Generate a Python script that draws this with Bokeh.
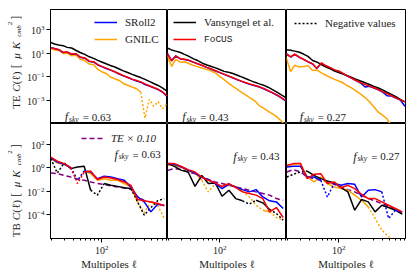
from math import pi
from bokeh.plotting import figure
from bokeh.layouts import column, row
from bokeh.models import Range1d, FixedTicker, Legend, LegendItem, Label
from bokeh.embed import file_html
from bokeh.resources import INLINE

SERIF = "Liberation Serif"
MONO = "Liberation Mono"
TXT = "#222222"

C_SROLL = "#0000ff"
C_GNILC = "#ffa500"
C_VANS = "#000000"
C_FOCUS = "#ff0000"
C_TE = "#800080"

# ---------------- data ----------------
ell_te = [19, 22, 25, 29, 33, 38, 44, 50, 58, 67, 77, 88, 100, 115, 132, 152, 175,
          200, 230, 265, 305, 350, 400, 460, 530, 610, 700, 810]
ell_tb = [19.5, 24, 30, 37, 46, 57, 70, 87, 108, 134, 166, 206, 255, 316, 391, 484, 600, 743]

fsky_labels = ["0.63", "0.43", "0.27"]

# TE, f_sky = 0.63
te63_vans = [89, 63, 52, 46, 33, 29, 18, 12, 8.3, 5.2, 3.8, 2.6, 1.9, 1.32, 0.95, 0.71, 0.48,
             0.33, 0.24, 0.166, 0.12, 0.089, 0.063, 0.042, 0.028, 0.019, 0.012, 0.0063]
te63_focus = [33, 25, 22, 12.6, 13.2, 8.9, 9.5, 5.0, 4.2, 2.2, 2.0, 1.12, 0.79, 0.56, 0.40, 0.28,
              0.19, 0.13, 0.095, 0.066, 0.050, 0.038, 0.026, 0.018, 0.0126, 0.0089, 0.0056, 0.0025]
te63_sroll2 = [33, 26, 21, 12.0, 13.0, 8.5, 9.0, 4.8, 4.0, 2.1, 1.9, 1.05, 0.76, 0.52, 0.38, 0.27,
               0.18, 0.125, 0.09, 0.062, 0.045, 0.036, 0.023, 0.017, 0.0118, 0.0085, 0.0052, 0.0022]
te63_gnilc = [28, 20, 19, 10, 10.5, 6.3, 7.1, 3.2, 2.5, 1.26, 1.12, 0.45, 0.28, 0.20, 0.10, 0.071,
              0.050, 0.028, 0.020, 0.014, 0.010, 0.005, -3.2e-5, 0.00126, -3.2e-4, 7.9e-4, -2.0e-4, 5.0e-4]

# TE, f_sky = 0.43
te43_vans = [30, 20, 15.8, 12, 8.3, 5.6, 3.5, 2.5, 1.48, 1.05, 0.79, 0.59, 0.43, 0.30, 0.25, 0.195,
             0.141, 0.102, 0.071, 0.049, 0.035, 0.026, 0.020, 0.0135, 0.0085, 0.0052, 0.0030, 0.00174]
te43_focus = [11.5, 2.24, 6.3, 3.5, 3.2, 2.6, 1.82, 1.35, 0.95, 0.66, 0.47, 0.34, 0.245, 0.174, 0.123,
              0.087, 0.060, 0.044, 0.032, 0.0245, 0.019, 0.0145, 0.0107, 0.0071, 0.0047, 0.0030, 0.00178, 0.0010]
te43_sroll2 = [11, 2.5, 6.0, 3.4, 3.1, 2.5, 1.75, 1.30, 0.92, 0.63, 0.45, 0.32, 0.235, 0.165, 0.118,
               0.083, 0.057, 0.042, 0.030, 0.023, 0.018, 0.0138, 0.0100, 0.0066, 0.0044, 0.0028, 0.00165, 0.0009]
te43_gnilc = [6.8, 0.79, 3.2, 1.82, 2.0, 1.41, 0.93, 0.76, 0.56, 0.42, 0.32, 0.21, 0.112, 0.060, 0.030,
              0.0158, 0.0087, 0.0050, 0.0028, 0.00158, 8.9e-4, 3.5e-4, 2.2e-4, 1.26e-4, 7.1e-5, 4.0e-5, 1.8e-5, 6.3e-6]

# TE, f_sky = 0.27
te27_vans = [21, 19, 15.8, 12.6, 8.9, 5.6, 2.5, 1.9, 1.12, 0.71, 0.50, 0.32, 0.24, 0.174, 0.126, 0.089,
             0.063, 0.045, 0.032, 0.023, 0.0158, 0.0115, 0.0079, 0.0050, 0.0033, 0.0021, 0.00126, 7.6e-4]
te27_focus = [10, 5.2, 8.9, 4.8, 3.2, 2.0, 1.32, 0.56, 1.58, 0.89, 0.63, 0.40, 0.32, 0.20, 0.126, 0.079,
              0.050, 0.033, 0.023, 0.0166, 0.012, 0.0083, 0.0056, 0.0038, 0.0025, 0.00166, 0.00112, 7.6e-4]
te27_sroll2 = [9.5, 5.0, 8.5, 4.6, 3.1, 1.9, 1.26, 0.53, 1.5, 0.85, 0.60, 0.38, 0.30, 0.19, 0.12, 0.075,
               0.046, 0.031, 0.014, 0.016, 0.0115, 0.0079, 0.0053, 0.0025, 0.0024, 0.0016, 0.0011, 3.2e-4]
te27_gnilc = [5.0, 0.28, 1.0, 0.71, 0.79, 0.89, 0.35, 0.40, 0.22, 0.141, 0.089, 0.063, 0.045, 0.032,
              0.0178, 0.0112, 0.0063, 0.0035, 0.00178, 7.9e-4, 2.8e-4, 1.0e-4, 5.6e-5, 2.8e-5, 6.3e-6,
              3.2e-6, 2.5e-6, 1.6e-6]

# TB, f_sky = 0.63
tb63_vans = [5.8, -0.35, 2.5, 0.83, 1.15, 1.29, 0.0123, -0.0047, 0.045, 0.032, 0.026, 0.020, 0.017,
             -0.00126, -9.5e-5, -4.2e-4, -0.00155, -0.0024]
tb63_focus = [7.9, 3.6, 2.2, 1.0, -0.045, 0.43, 0.52, 0.098, 0.16, 0.135, 0.098, 0.062, 0.032, 0.002,
              0.00155, 0.00126, 9.1e-4, 5.9e-4]
tb63_sroll2 = [6.9, 3.0, 1.9, 1.0, -0.085, 0.52, 0.43, 0.117, 0.186, 0.162, 0.117, 0.085, 0.023, 0.0033,
               0.00126, 1.8e-4, 8.1e-4, 6.6e-4]
tb63_gnilc = [5.8, 2.5, 1.9, 1.0, -0.085, 0.52, 0.32, 0.085, 0.117, 0.085, 0.085, 0.045, 0.023, 0.00126,
              -1.5e-4, 0.00126, 6.6e-4, -5.0e-5]
tb63_te01 = [0.35, 0.31, 0.22, 0.16, 0.11, 0.085, 0.062, 0.045, 0.037, 0.028, 0.023, 0.019, 0.0148,
             0.0033, 0.0017, 0.00126, 9.1e-4, 5.5e-4]

# TB, f_sky = 0.43
tb43_vans = [2.2, 1.29, 0.59, 0.43, 0.026, 0.22, 0.045, 0.051, 0.0038, 0.0123, 0.0024, 0.00155, -8.1e-4,
             0.00174, 0.00105, 2.9e-4, -1.3e-4, -3.6e-5]
tb43_focus = [2.2, 2.2, 1.29, 0.68, 0.43, 0.16, 0.085, 0.051, 0.026, 0.045, 0.020, 0.0089, 0.0065, 0.0047,
              0.0024, 1.8e-4, 4.2e-4, 6.0e-5]
tb43_sroll2 = [2.2, 1.9, 1.15, 0.59, 0.35, 0.145, 0.098, 0.045, 0.017, 0.039, 0.023, 0.0138, 0.0089,
               0.0138, 0.0033, 0.00155, 0.00126, 3.5e-4]
tb43_gnilc = [1.58, 1.58, 1.0, 0.52, 0.35, 0.085, -0.0089, 0.045, 0.023, 0.032, 0.026, 0.0107, -0.0033,
              -6.6e-4, 2.5e-4, 1.8e-4, -6.0e-5, 3.6e-5]
tb43_te01 = [0.59, 0.83, 0.68, 0.43, 0.31, 0.16, 0.098, 0.062, 0.045, 0.032, 0.023, 0.017, 0.0123,
             0.0089, 0.0065, 0.0047, 0.0024, 0.00174]

# TB, f_sky = 0.27
tb27_vans = [-0.162, -0.275, -0.43, 0.52, 0.22, 0.117, 0.074, 0.051, 0.020, 0.0089, 2.5e-4, 0.0020,
             0.00126, 1.8e-4, 6.6e-4, 4.2e-4, 2.5e-4, 1.15e-4]
tb27_focus = [1.58, 2.2, 2.2, 0.117, 0.275, 0.31, 0.045, 0.062, 0.020, 0.032, 0.017, 0.0056, 0.0024,
              0.0024, 0.00126, 6.6e-4, 3.5e-4, 1.8e-4]
tb27_sroll2 = [1.15, 1.29, 1.29, 0.162, 0.162, 0.085, -0.0033, 0.045, 0.032, 0.045, 0.039, 0.0033, 0.0123,
               0.0138, 0.0089, -5.0e-5, 2.5e-4, 1.8e-4]
tb27_gnilc = [1.29, 1.9, 2.2, 0.162, 0.062, 0.162, 0.045, 0.023, 0.017, 0.0123, 0.0047, 0.00174, 4.8e-4,
              -5.0e-5, -5.1e-6, -1.4e-6, -5.4e-7, -3.2e-7]
tb27_te01 = [0.43, 0.68, 0.43, 0.162, 0.117, 0.085, 0.062, 0.039, 0.023, 0.0138, 0.0089, 0.0047, 0.0024,
             0.00155, 9.1e-4, 5.5e-4, 2.5e-4, 1.3e-4]

x_major = [100]
x_minor = [20, 30, 40, 50, 60, 70, 80, 90, 200, 300, 400, 500, 600, 700, 800]
te_ticks = [1e-3, 1e-1, 1e1, 1e3]
tb_ticks = [1e-4, 1e-2, 1e0, 1e2]

X_RANGE = (19.3, 825)
TE_RANGE = (1.1e-5, 5.5e4)
TB_RANGE = (1.0e-6, 5.5e3)

# ---------------- layout geometry (px) ----------------
FRAME_W = [118, 119, 119]
FRAME_H = [114, 115]
LABEL_W = 24
LEFT_B = 25
RIGHT_B = 8
TOP_B = 9
BOTTOM_B = 34
TOTAL_H = TOP_B + FRAME_H[0] + FRAME_H[1] + BOTTOM_B
DOT = "2 2"


def runs(ell, vals):
    mag = [abs(v) for v in vals]
    out = {"solid": ([], []), "dot": ([], [])}
    kind_cur, cx, cy = None, [], []
    for i in range(len(ell) - 1):
        kind = "dot" if (vals[i] < 0 or vals[i + 1] < 0) else "solid"
        if kind != kind_cur:
            if kind_cur is not None:
                out[kind_cur][0].append(cx)
                out[kind_cur][1].append(cy)
            kind_cur, cx, cy = kind, [ell[i]], [mag[i]]
        cx.append(ell[i + 1])
        cy.append(mag[i + 1])
    out[kind_cur][0].append(cx)
    out[kind_cur][1].append(cy)
    return out


def draw(p, ell, vals, color, dash="solid"):
    r = runs(ell, vals)
    rs = p.multi_line(xs=r["solid"][0], ys=r["solid"][1], line_color=color,
                      line_width=1.5, line_dash=dash)
    if r["dot"][0]:
        p.multi_line(xs=r["dot"][0], ys=r["dot"][1], line_color=color,
                     line_width=1.5, line_dash=DOT)
    return rs


def make_fig(ri, ci):
    left = LEFT_B if ci == 0 else 0
    right = RIGHT_B if ci == 2 else 0
    top = TOP_B if ri == 0 else 0
    bottom = 0 if ri == 0 else BOTTOM_B
    p = figure(width=left + FRAME_W[ci] + right, height=top + FRAME_H[ri] + bottom,
               x_axis_type="log", y_axis_type="log",
               x_range=Range1d(*X_RANGE),
               y_range=Range1d(*(TE_RANGE if ri == 0 else TB_RANGE)),
               x_axis_location=("below" if ri == 1 else None),
               y_axis_location=("left" if ci == 0 else None),
               output_backend="svg", toolbar_location=None,
               min_border_left=left, min_border_right=right,
               min_border_top=top, min_border_bottom=bottom)
    for g in p.grid:
        g.visible = False
    p.outline_line_color = "black"
    p.outline_line_width = 1
    p.background_fill_color = "white"
    p.border_fill_color = "white"
    if ci == 0:
        ax = p.yaxis[0]
        ax.ticker = FixedTicker(ticks=te_ticks if ri == 0 else tb_ticks, minor_ticks=[])
        ax.major_tick_out = 4
        ax.major_tick_in = 0
        ax.major_label_standoff = 2
        ax.major_label_text_font = SERIF
        ax.major_label_text_font_size = "10px"
        ax.major_label_text_color = TXT
        ax.axis_line_color = "black"
    if ri == 1:
        ax = p.xaxis[0]
        ax.ticker = FixedTicker(ticks=x_major, minor_ticks=x_minor)
        ax.major_tick_out = 4
        ax.major_tick_in = 0
        ax.minor_tick_out = 2
        ax.minor_tick_in = 0
        ax.major_label_standoff = 2
        ax.major_label_text_font = SERIF
        ax.major_label_text_font_size = "10px"
        ax.major_label_text_color = TXT
        ax.axis_label = "Multipoles ℓ"
        ax.axis_label_standoff = 1
        ax.axis_label_text_font = SERIF
        ax.axis_label_text_font_size = "11px"
        ax.axis_label_text_font_style = "normal"
        ax.axis_label_text_color = TXT
    return p


def fsky(p, ri, x, y_from_top, val):
    yb = FRAME_H[ri] - y_from_top
    common = dict(x_units="screen", y_units="screen", text_font=SERIF,
                  text_baseline="alphabetic", text_color=TXT)
    p.add_layout(Label(x=x, y=yb, text="f", text_font_style="italic",
                       text_font_size="12px", **common))
    p.add_layout(Label(x=x + 4.2, y=yb - 2, text="sky", text_font_style="italic",
                       text_font_size="7.5px", **common))
    p.add_layout(Label(x=x + 18, y=yb, text="=", text_font_size="11px", **common))
    p.add_layout(Label(x=x + 27, y=yb, text=val, text_font_size="11px", **common))


def add_ylabel(p, prefix, s0):
    bx = 15.5
    common = dict(x_units="screen", y_units="screen", text_font=SERIF, angle=pi / 2,
                  text_baseline="alphabetic", text_align="left", text_color=TXT)
    pieces = [
        (prefix, 0, 0, "11px", "normal"),
        ("C", 17, 0, "11px", "italic"),
        ("(ℓ)", 24.5, 0, "11px", "normal"),
        ("[", 40.5, 0, "12px", "normal"),
        ("μ", 50, 0, "11px", "italic"),
        ("K", 59.5, 0, "11px", "italic"),
        ("cmb", 72, 2.5, "7px", "italic"),
        ("2", 83.5, -6, "7px", "normal"),
        ("]", 89, 0, "12px", "normal"),
    ]
    for text, dy, dx, size, style in pieces:
        p.add_layout(Label(x=bx + dx, y=s0 + dy, text=text, text_font_size=size,
                           text_font_style=style, **common))


def legend(p, items, loc, font=SERIF, size="11px", style="normal", standoff=8):
    lg = Legend(items=items, location=loc, orientation="vertical",
                background_fill_alpha=0, border_line_alpha=0, padding=0, margin=0,
                spacing=3, glyph_width=23, glyph_height=14, label_height=14,
                label_standoff=standoff, label_text_font=font, label_text_font_size=size,
                label_text_font_style=style, label_text_color=TXT)
    p.add_layout(lg)


te_sets = [
    (te63_sroll2, te63_gnilc, te63_vans, te63_focus),
    (te43_sroll2, te43_gnilc, te43_vans, te43_focus),
    (te27_sroll2, te27_gnilc, te27_vans, te27_focus),
]
tb_sets = [
    (tb63_sroll2, tb63_gnilc, tb63_vans, tb63_focus, tb63_te01),
    (tb43_sroll2, tb43_gnilc, tb43_vans, tb43_focus, tb43_te01),
    (tb27_sroll2, tb27_gnilc, tb27_vans, tb27_focus, tb27_te01),
]

fsky_x_top = [14.3, 14.7, 13.3]
fsky_x_bot = [64, 65.7, 66.7]
fsky_y_bot = [31.3, 33, 33]

# one tall strip on the left that carries both rotated y-axis titles
label_fig = figure(width=LABEL_W, height=TOTAL_H, x_range=Range1d(0, 1), y_range=Range1d(0, 1),
                   x_axis_location=None, y_axis_location=None, output_backend="svg",
                   toolbar_location=None, min_border=0)
for g in label_fig.grid:
    g.visible = False
label_fig.outline_line_color = None
label_fig.border_fill_color = "white"
add_ylabel(label_fig, "TE", TOTAL_H - 108.3)
add_ylabel(label_fig, "TB", TOTAL_H - 236.7)

top_figs, bot_figs = [], []

for ci in range(3):
    p = make_fig(0, ci)
    s, g, v, f = te_sets[ci]
    rg = draw(p, ell_te, g, C_GNILC)
    rs = draw(p, ell_te, s, C_SROLL)
    rv = draw(p, ell_te, v, C_VANS)
    rf = draw(p, ell_te, f, C_FOCUS)
    fsky(p, 0, fsky_x_top[ci], 107.7, fsky_labels[ci])
    if ci == 0:
        legend(p, [LegendItem(label="SRoll2", renderers=[rs]),
                   LegendItem(label="GNILC", renderers=[rg])], (44, 77))
    elif ci == 1:
        legend(p, [LegendItem(label="Vansyngel et al.", renderers=[rv])], (6, 94))
        legend(p, [LegendItem(label="FoCUS", renderers=[rf])], (6, 77), font=MONO, size="9.5px")
    else:
        rneg = p.line(x=ell_te[:1], y=[abs(v[0])], line_color="black", line_width=1.5,
                      line_dash=DOT)
        legend(p, [LegendItem(label="Negative values", renderers=[rneg])], (8, 93))
    top_figs.append(p)

for ci in range(3):
    p = make_fig(1, ci)
    s, g, v, f, t = tb_sets[ci]
    rt = draw(p, ell_tb, t, C_TE, dash="5 3")
    draw(p, ell_tb, g, C_GNILC)
    draw(p, ell_tb, v, C_VANS)
    draw(p, ell_tb, s, C_SROLL)
    draw(p, ell_tb, f, C_FOCUS)
    fsky(p, 1, fsky_x_bot[ci], fsky_y_bot[ci], fsky_labels[ci])
    if ci == 0:
        legend(p, [LegendItem(label="TE × 0.10", renderers=[rt])], (31, 93.3),
               style="italic", standoff=7)
    bot_figs.append(p)

layout = row(label_fig, column(row(*top_figs), row(*bot_figs)))

open("out.html", "w").write(file_html(layout, INLINE))
